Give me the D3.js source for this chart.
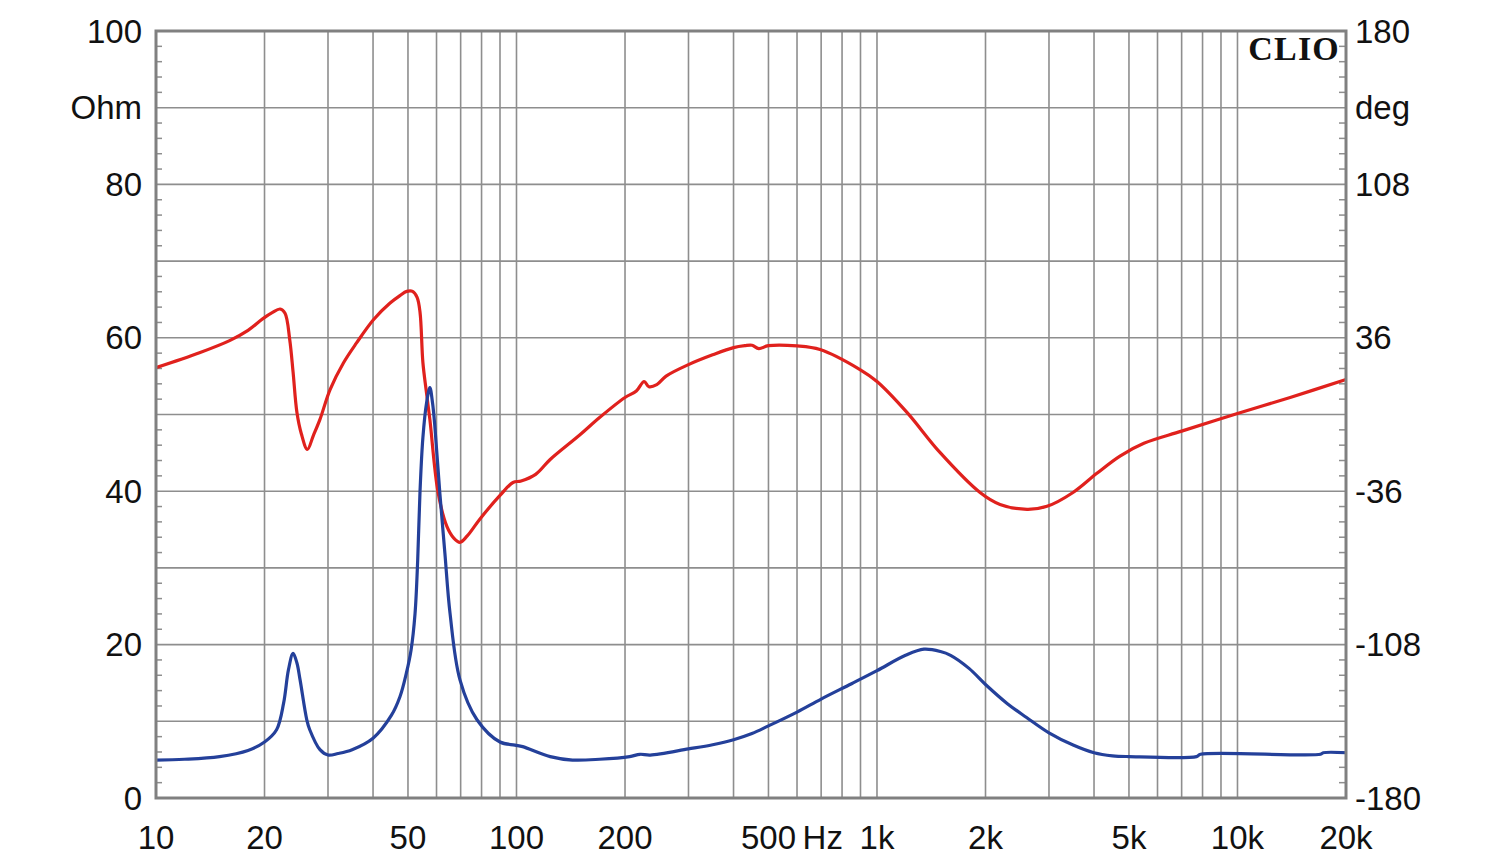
<!DOCTYPE html>
<html>
<head>
<meta charset="utf-8">
<script src="https://cdn.jsdelivr.net/npm/d3@7"></script>
<style>
html,body{margin:0;padding:0;background:#fff;}
svg{display:block;}
text{font-family:"Liberation Sans",Arial,sans-serif;fill:#111;}
</style>
</head>
<body>
<svg id="chart" width="1500" height="864"></svg>
<script>
// Impedance magnitude (Ohm) vs frequency (Hz)
const impedanceFreq = [10,12,15,18,20,21.6,22.6,23.3,24.0,24.6,25.1,26.2,26.7,28.5,30,32,35,40,45,47.5,49.5,51,52.3,53.2,54,55,56.3,57.5,58.5,59.4,61.3,63.3,65.4,69.7,77.7,90,99,104,124,143,170,206,220,235,300,350,400,450,500,600,700,850,1000,1200,1350,1500,1600,1800,2000,2300,2600,3000,3500,4000,4500,5000,7700,7900,17000,17300,20000];
const impedanceOhm  = [4.95,5.05,5.4,6.2,7.3,8.9,12.4,16.7,18.85,17.6,15.4,10.2,8.9,6.3,5.6,5.8,6.3,7.8,10.8,13.2,16.3,19.3,24,31,40,47,51.5,53.5,51.5,48.3,39.7,31.9,24.1,15.4,10.2,7.3,6.9,6.7,5.4,4.95,5.05,5.4,5.7,5.6,6.4,6.95,7.6,8.4,9.4,11.2,12.9,14.9,16.6,18.6,19.4,19.1,18.6,16.9,14.8,12.3,10.5,8.5,6.9,5.9,5.5,5.4,5.4,5.7,5.7,5.9,5.9];

// Impedance phase (deg) vs frequency (Hz)
const phaseFreq = [10,13.2,16,18,19.8,21,22.1,22.8,23.5,24.0,24.6,25.3,26.3,27.3,28.5,30.4,33.1,36,40.1,44.6,47.5,49.6,51.5,53,54,55,56.2,57.5,60.6,64.1,67,69.7,73,79.2,90,97.8,103,113,124,150,170,200,215,226,233,245,260,300,350,400,430,450,470,500,600,695,897,1000,1211,1495,1931,2194,2607,2962,3498,4074,4721,5500,7000,10000,14000,20000];
const phaseDeg  = [22,29,34.7,39.5,45,47.8,49.5,47.5,35,20,0.9,-9,-16.4,-10,-2.3,11.7,24.2,33.6,44.5,52.3,55.8,57.8,57.8,55,48,24.4,11,-2.3,-36.6,-52.5,-58,-60,-57,-49,-38,-31.9,-31.2,-28.1,-21.1,-9.5,-1.4,8,11,15.5,13,14,18,23.4,28,31.4,32.3,32.5,30.9,32.3,32.2,30.5,21.1,15.5,1.0,-17.8,-36.6,-42.2,-44.5,-43.1,-36.6,-27.6,-19.5,-13.5,-7.8,0.5,8,16.4];

// Axis tick labels
const xTickValues = [10,20,50,100,200,500,1000,2000,5000,10000,20000];
const xTickLabels = ["10","20","50","100","200","500","1k","2k","5k","10k","20k"];
const leftTickValues = [100,90,80,60,40,20,0];
const leftTickLabels = ["100","Ohm","80","60","40","20","0"];
const rightTickValues = [180,108,36,-36,-108,-180];
const rightTickLabels = ["180","108","36","-36","-108","-180"];

const svg = d3.select("#chart");
const L = 156, R = 1346, T = 31, B = 798;
const FS = 33;

const x = d3.scaleLog().domain([10,20000]).range([L,R]);
const yL = d3.scaleLinear().domain([0,100]).range([B,T]);
const yR = d3.scaleLinear().domain([-180,180]).range([B,T]);

// vertical grid lines
const vGrid = [];
for (let dec = 10; dec <= 10000; dec *= 10) {
  for (let m = 1; m <= 9; m++) {
    const f = dec*m;
    if (f > 10 && f < 20000) vGrid.push(f);
  }
}
svg.append("g").selectAll("line").data(vGrid).join("line")
  .attr("x1", d => x(d)).attr("x2", d => x(d))
  .attr("y1", T).attr("y2", B)
  .attr("stroke", "#8e8e8e").attr("stroke-width", 1.6);

// horizontal grid lines
const hGrid = d3.range(10, 100, 10);
svg.append("g").selectAll("line").data(hGrid).join("line")
  .attr("x1", L).attr("x2", R)
  .attr("y1", d => yL(d)).attr("y2", d => yL(d))
  .attr("stroke", "#8e8e8e").attr("stroke-width", 1.6);

// minor ticks on left & right axes (every 2 Ohm)
const minor = d3.range(2, 100, 2).filter(v => v % 10 !== 0);
svg.append("g").selectAll("line").data(minor).join("line")
  .attr("x1", L).attr("x2", L+6)
  .attr("y1", d => yL(d)).attr("y2", d => yL(d))
  .attr("stroke", "#8e8e8e").attr("stroke-width", 1.5);
svg.append("g").selectAll("line").data(minor).join("line")
  .attr("x1", R-7).attr("x2", R)
  .attr("y1", d => yL(d)).attr("y2", d => yL(d))
  .attr("stroke", "#8e8e8e").attr("stroke-width", 1.5);

// curves
const line = d3.line().curve(d3.curveCatmullRom.alpha(0.5));
const phasePts = phaseFreq.map((f,i) => [x(f), yR(phaseDeg[i])]);
const impPts = impedanceFreq.map((f,i) => [x(f), yL(impedanceOhm[i])]);

svg.append("path").attr("d", line(phasePts))
  .attr("fill","none").attr("stroke","#e0211d").attr("stroke-width",3.2)
  .attr("stroke-linejoin","round");
svg.append("path").attr("d", line(impPts))
  .attr("fill","none").attr("stroke","#24409a").attr("stroke-width",3.2)
  .attr("stroke-linejoin","round");

// frame
svg.append("rect").attr("x", L).attr("y", T).attr("width", R-L).attr("height", B-T)
  .attr("fill","none").attr("stroke","#808080").attr("stroke-width",3);

// left labels
svg.append("g").selectAll("text").data(leftTickValues).join("text")
  .attr("x", 142).attr("y", d => yL(d))
  .attr("text-anchor","end").attr("dominant-baseline","central")
  .attr("font-size", FS)
  .text((d,i) => leftTickLabels[i]);

// right labels
svg.append("g").selectAll("text").data(rightTickValues).join("text")
  .attr("x", 1355).attr("y", d => yR(d))
  .attr("text-anchor","start").attr("dominant-baseline","central")
  .attr("font-size", FS)
  .text((d,i) => rightTickLabels[i]);
svg.append("text").attr("x",1355).attr("y", yL(90))
  .attr("dominant-baseline","central").attr("font-size",FS).text("deg");

// bottom labels
svg.append("g").selectAll("text").data(xTickValues).join("text")
  .attr("x", d => x(d)).attr("y", 837)
  .attr("text-anchor","middle").attr("dominant-baseline","central")
  .attr("font-size", FS)
  .text((d,i) => xTickLabels[i]);
svg.append("text").attr("x", x(Math.sqrt(500*1000))).attr("y", 837)
  .attr("text-anchor","middle").attr("dominant-baseline","central")
  .attr("font-size",FS).text("Hz");

// CLIO logo
svg.append("text").attr("x", 1340).attr("y", 60)
  .attr("text-anchor","end")
  .style("font-family","'Liberation Serif','DejaVu Serif',serif")
  .attr("font-weight","bold").attr("font-size",34)
  .attr("letter-spacing", 1.2)
  .text("CLIO");
</script>
</body>
</html>
